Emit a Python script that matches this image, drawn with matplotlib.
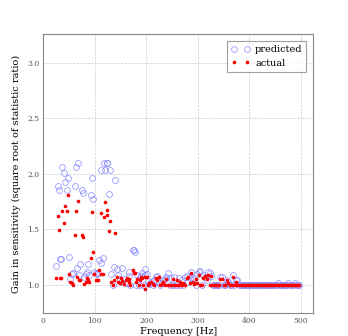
import matplotlib
matplotlib.use('Agg')
import matplotlib.pyplot as plt

# frequency grid [Hz] and the two gain series
freq_low = [24.6, 27.8, 30.4, 32.3, 34.9, 36.9, 40.5, 42.7, 45.9, 47.2,
            50.2, 52.4, 55.3, 58.5, 60.8, 63.7, 66.0, 67.3, 69.9, 71.8,
            75.7, 77.6, 79.9, 82.5, 85.4, 87.6, 89.3, 92.8, 94.8, 96.7,
            99.0, 102.2, 104.0, 105.4, 108.7, 111.2, 112.5, 115.4, 117.7, 120.3,
            122.9, 124.5, 127.4, 130.3, 132.3, 135.8, 137.8, 139.7, 142.3, 145.5,
            148.4, 150.7, 153.3, 155.9, 159.8, 162.3, 165.6, 166.9, 168.8, 173.3,
            175.3, 177.9, 179.5, 182.4, 185.6, 188.2, 190.2, 192.1, 194.1, 196.6,
            197.9, 200.5]
pred_low = [1.168, 1.894, 1.858, 1.230, 1.237, 2.058, 2.004, 1.930, 1.858, 1.966,
            1.250, 1.057, 1.100, 1.110, 1.894, 2.065, 1.153, 2.097, 1.087, 1.186,
            1.850, 1.830, 1.075, 1.096, 1.120, 1.186, 1.087, 1.810, 1.960, 1.770,
            1.120, 1.108, 1.100, 1.105, 1.225, 1.195, 2.030, 1.246, 2.094, 2.030,
            2.094, 2.094, 1.820, 2.030, 1.096, 1.000, 1.160, 1.944, 1.144, 1.093,
            1.054, 1.030, 1.150, 1.051, 1.015, 1.020, 1.117, 1.078, 1.000, 1.315,
            1.315, 1.294, 1.000, 1.090, 1.000, 1.072, 1.080, 1.105, 1.000, 1.090,
            1.147, 1.100]
act_low = [1.063, 1.620, 1.490, 1.063, 1.063, 1.663, 1.560, 1.714, 1.666, 1.810,
           1.100, 1.030, 1.020, 1.000, 1.453, 1.666, 1.072, 1.753, 1.045, 1.045,
           1.450, 1.430, 1.012, 1.024, 1.060, 1.045, 1.030, 1.240, 1.657, 1.300,
           1.100, 1.045, 1.045, 1.045, 1.135, 1.100, 1.645, 1.096, 1.615, 1.744,
           1.630, 1.675, 1.483, 1.575, 1.030, 0.997, 1.045, 1.470, 1.075, 1.027,
           1.018, 1.066, 1.036, 1.006, 1.045, 1.066, 1.030, 1.050, 1.000, 1.130,
           1.105, 1.105, 1.030, 1.051, 1.000, 1.045, 1.075, 1.060, 1.000, 1.069,
           0.961, 1.075]

freq_high = [203, 206, 209, 212, 215, 218, 221, 224, 227, 230,
             233, 236, 239, 242, 245, 248, 251, 254, 257, 260,
             263, 266, 269, 272, 275, 278, 281, 284, 287, 290,
             293, 296, 299, 302, 305, 308, 311, 314, 317, 320,
             323, 326, 329, 332, 335, 338, 341, 344, 347, 350,
             353, 356, 359, 362, 365, 368, 371, 374, 377, 380,
             383, 386, 389, 392, 395, 398, 401, 404, 407, 410,
             413, 416, 419, 422, 425, 428, 431, 434, 437, 440,
             443, 446, 449, 452, 455, 458, 461, 464, 467, 470,
             473, 476, 479, 482, 485, 488, 491, 494, 497]
pred_high = [1.036, 1.012, 1.030, 1.000, 1.040, 1.069, 1.081, 1.030, 1.000, 1.020,
             1.042, 1.054, 1.075, 1.105, 1.000, 1.060, 1.000, 1.075, 1.000, 1.030,
             1.066, 1.000, 1.040, 1.000, 1.075, 1.084, 1.030, 1.060, 1.120, 1.040,
             1.060, 1.000, 1.100, 1.120, 1.129, 1.000, 1.090, 1.070, 1.040, 1.120,
             1.105, 1.081, 1.000, 1.000, 1.000, 1.000, 1.000, 1.072, 1.069, 1.000,
             1.000, 1.045, 1.030, 1.000, 1.000, 1.090, 1.000, 1.045, 1.040, 1.000,
             1.000, 1.000, 1.000, 1.000, 1.000, 1.000, 1.000, 1.000, 1.000, 1.000,
             1.000, 1.000, 1.000, 1.000, 1.000, 1.000, 1.000, 1.000, 1.000, 1.000,
             1.000, 1.000, 1.000, 1.000, 1.015, 1.000, 1.000, 1.000, 1.000, 1.000,
             1.000, 1.015, 1.000, 1.000, 1.000, 1.015, 1.000, 1.000, 1.000]
act_high = [1.000, 1.020, 1.030, 1.010, 1.000, 1.060, 1.040, 1.070, 1.000, 1.010,
            1.030, 1.000, 1.050, 1.000, 1.000, 1.000, 1.050, 1.000, 1.000, 1.040,
            1.000, 1.030, 1.000, 1.020, 1.000, 1.060, 1.070, 1.020, 1.110, 1.030,
            1.010, 1.050, 1.020, 1.090, 1.000, 1.000, 1.060, 1.080, 1.050, 1.090,
            1.000, 1.080, 1.000, 1.000, 1.000, 1.000, 1.000, 1.050, 1.050, 1.000,
            1.000, 1.040, 1.020, 1.000, 1.000, 1.070, 1.000, 1.030, 1.000, 1.000,
            1.000, 1.000, 1.000, 1.000, 1.000, 1.000, 1.000, 1.000, 1.000, 1.000,
            1.000, 1.000, 1.000, 1.000, 1.000, 1.000, 1.000, 1.000, 1.000, 1.000,
            1.000, 1.000, 1.000, 1.000, 1.000, 1.000, 1.000, 1.000, 1.000, 1.000,
            1.000, 1.000, 1.000, 1.000, 1.000, 1.000, 1.000, 1.000, 1.000]

freq = freq_low + freq_high
predicted = pred_low + pred_high
actual = act_low + act_high

plt.rcParams['font.family'] = 'DejaVu Serif'

fig = plt.figure(figsize=(3.48, 3.36), dpi=100)
ax = fig.add_axes([0.1245, 0.0676, 0.7755, 0.8304])

ax.plot(freq, predicted, 'o', markerfacecolor='none', markeredgecolor='#8080ff',
        markeredgewidth=0.6, markersize=4.2, alpha=0.8, label='predicted')
ax.plot(freq, actual, '.', color='red', markersize=3.2, label='actual')

ax.set_xlim(0, 524)
ax.set_ylim(0.745, 3.255)
ax.set_xticks([0, 100, 200, 300, 400, 500])
ax.set_yticks([1.0, 1.5, 2.0, 2.5, 3.0])
ax.tick_params(labelsize=5.5, length=0, pad=3, colors='#555555')
ax.grid(True, linestyle='--', color='#cccccc', linewidth=0.5)
for s in ax.spines.values():
    s.set_color('#888888')
    s.set_linewidth(0.8)

ax.set_xlabel('Frequency [Hz]', fontsize=7, labelpad=1)
ax.set_ylabel('Gain in sensitivity (square root of statistic ratio)', fontsize=7, labelpad=4)

leg = ax.legend(loc='upper right', numpoints=2, fontsize=7, fancybox=False,
                borderaxespad=0.7, handletextpad=0.5)
leg.get_frame().set_edgecolor('#888888')
leg.get_frame().set_linewidth(0.8)

fig.savefig('out.png', dpi=100)
